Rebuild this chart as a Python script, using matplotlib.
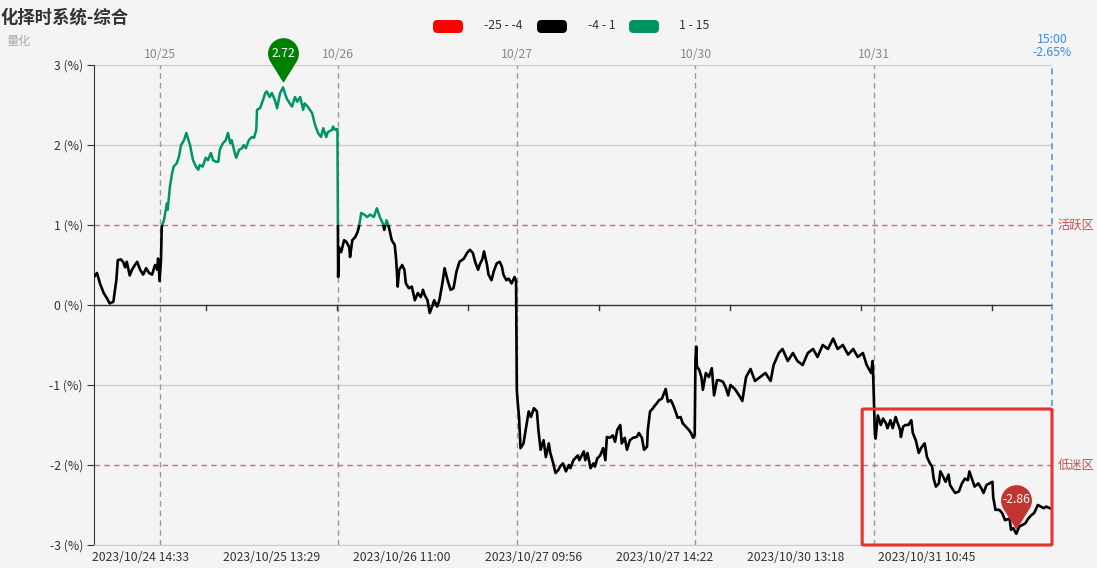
import numpy as np
import matplotlib
matplotlib.use("Agg")
import matplotlib.pyplot as plt
from matplotlib.path import Path
from matplotlib.patches import FancyBboxPatch, Rectangle

plt.rcParams['font.family'] = ['Noto Sans CJK SC', 'DejaVu Sans']

# ---------------- data ----------------
# trading-minute index (0 = 2023/10/24 13:33) and cumulative return in %
idx = [0, 4, 8, 13, 17, 21, 26, 30, 32, 36, 39, 42, 44, 48, 51, 55, 58, 62, 66, 70, 74, 78, 82, 85, 86, 87,
       88, 90, 91, 94, 97, 98, 99, 102, 105, 107, 111, 114, 117, 121, 124, 126, 129, 133, 137, 140, 142, 146,
       150, 153, 157, 160, 164, 167, 169, 173, 177, 180, 183, 185, 188, 191, 195, 199, 201, 204, 208, 212,
       215, 218, 219, 223, 227, 230, 232, 236, 239, 243, 246, 250, 254, 257, 259, 263, 266, 270, 273, 277,
       281, 283, 287, 293, 297, 301, 305, 308, 312, 314, 320, 321, 324, 327,
       328, 329, 332, 336, 339, 343, 344, 347, 351, 354, 356, 359, 363, 367, 371, 376, 380, 384, 388, 390,
       393, 396, 400, 404, 406, 408, 410, 414, 417, 419, 423, 427, 431, 435, 439, 442, 444, 448, 451, 455,
       457, 461, 464, 468, 471, 475, 479, 483, 487, 491, 497, 501, 505, 509, 512, 516, 518, 522, 524, 528,
       530, 534, 537, 541, 545, 548, 550, 554, 557, 561, 563, 565, 567,
       568, 569, 571, 573, 577, 580, 584, 587, 591, 595, 597, 600, 604, 607, 611, 613, 617, 620, 624, 626,
       630, 634, 638, 640, 644, 650, 652, 658, 660, 663, 667, 671, 673, 676, 680, 684, 687, 689, 693, 697,
       700, 703, 707, 709, 713, 716, 720, 724, 729, 732, 736, 739, 743, 744, 747, 751, 754, 756, 759, 763,
       766, 768, 771, 775, 778, 782, 784, 788, 791, 795, 799, 802, 805, 807,
       808, 809, 810, 813, 816, 818, 822, 826, 830, 833, 837, 840, 845, 849, 852, 855, 861, 868, 871, 876,
       882, 888, 895, 902, 909, 913, 920, 925, 932, 939, 945, 952, 959, 966, 972, 979, 986, 993, 999, 1006,
       1013, 1020, 1026, 1033, 1038, 1044, 1046, 1047,
       1048, 1049, 1050, 1053, 1057, 1060, 1064, 1066, 1070, 1073, 1077, 1079, 1083, 1084, 1087, 1090, 1094,
       1098, 1100, 1104, 1108, 1111, 1114, 1116, 1119, 1123, 1126, 1128, 1131, 1135, 1137, 1141, 1144, 1148,
       1150, 1154, 1157, 1162, 1166, 1170, 1174, 1176, 1180, 1183, 1188, 1192, 1195, 1199, 1203, 1207, 1208,
       1211, 1216, 1220, 1224, 1230, 1232, 1235, 1239, 1243, 1247, 1251, 1255, 1259, 1263, 1268, 1272, 1276,
       1279, 1287]
vals = [0.35, 0.40, 0.27, 0.15, 0.09, 0.02, 0.04, 0.31, 0.56, 0.57, 0.54, 0.47, 0.54, 0.37, 0.44, 0.50, 0.54,
        0.44, 0.38, 0.46, 0.40, 0.38, 0.50, 0.44, 0.58, 0.55,
        0.30, 0.56, 0.98, 1.06, 1.22, 1.27, 1.19, 1.48, 1.65, 1.73, 1.77, 1.85, 2.00, 2.06, 2.15, 2.09, 2.00,
        1.81, 1.73, 1.69, 1.75, 1.73, 1.84, 1.81, 1.90, 1.81, 1.79, 1.79, 1.94, 2.02, 2.06, 2.15, 2.02, 2.06,
        1.94, 1.84, 1.94, 1.96, 2.00, 1.96, 2.06, 2.10, 2.09, 2.19, 2.44, 2.46, 2.56, 2.65, 2.67, 2.60, 2.65,
        2.56, 2.46, 2.65, 2.72, 2.63, 2.58, 2.52, 2.48, 2.60, 2.54, 2.60, 2.44, 2.52, 2.48, 2.40, 2.25, 2.15,
        2.10, 2.21, 2.10, 2.16, 2.19, 2.23, 2.19, 2.20,
        0.35, 0.72, 0.66, 0.81, 0.79, 0.72, 0.60, 0.81, 0.85, 0.91, 0.98, 1.15, 1.13, 1.10, 1.13, 1.10, 1.21,
        1.10, 1.02, 0.94, 1.06, 0.98, 0.81, 0.75, 0.56, 0.23, 0.44, 0.50, 0.44, 0.27, 0.21, 0.23, 0.06, 0.15,
        0.10, 0.19, 0.13, 0.06, -0.10, 0.00, 0.06, -0.02, 0.06, 0.27, 0.46, 0.31, 0.19, 0.21, 0.42, 0.54,
        0.58, 0.65, 0.69, 0.65, 0.54, 0.44, 0.50, 0.58, 0.67, 0.50, 0.38, 0.31, 0.42, 0.52, 0.54, 0.48, 0.38,
        0.31, 0.33, 0.27, 0.31, 0.35, 0.30,
        -1.06, -1.19, -1.40, -1.79, -1.73, -1.56, -1.33, -1.40, -1.29, -1.33, -1.56, -1.81, -1.69, -1.90,
        -1.73, -1.85, -1.98, -2.10, -2.06, -2.02, -1.98, -2.08, -2.00, -2.04, -1.94, -1.88, -1.94, -1.83,
        -1.94, -1.85, -2.04, -1.98, -2.02, -1.92, -1.88, -1.79, -1.94, -1.65, -1.66, -1.63, -1.71, -1.56,
        -1.50, -1.73, -1.66, -1.81, -1.69, -1.66, -1.65, -1.60, -1.66, -1.81, -1.77, -1.56, -1.33, -1.29,
        -1.25, -1.23, -1.19, -1.17, -1.10, -1.05, -1.21, -1.19, -1.25, -1.35, -1.41, -1.40, -1.48, -1.52,
        -1.56, -1.60, -1.66, -1.62,
        -0.69, -0.52, -0.77, -0.81, -0.90, -1.06, -0.85, -0.90, -0.79, -1.13, -0.94, -0.94, -0.96, -1.04,
        -1.13, -1.00, -1.05, -1.15, -1.20, -0.90, -0.80, -0.95, -0.90, -0.85, -0.95, -0.75, -0.60, -0.55,
        -0.70, -0.60, -0.70, -0.75, -0.60, -0.55, -0.65, -0.50, -0.55, -0.42, -0.55, -0.50, -0.62, -0.55,
        -0.65, -0.60, -0.75, -0.85, -0.70, -0.95,
        -1.30, -1.60, -1.67, -1.38, -1.50, -1.42, -1.48, -1.54, -1.44, -1.54, -1.40, -1.46, -1.56, -1.65,
        -1.52, -1.50, -1.50, -1.44, -1.60, -1.69, -1.85, -1.79, -1.75, -1.73, -1.90, -1.98, -2.02, -2.17,
        -2.27, -2.23, -2.08, -2.15, -2.21, -2.12, -2.25, -2.31, -2.35, -2.33, -2.23, -2.17, -2.19, -2.08,
        -2.19, -2.27, -2.23, -2.29, -2.35, -2.25, -2.23, -2.21, -2.40, -2.56, -2.56, -2.60, -2.69, -2.67,
        -2.81, -2.79, -2.86, -2.77, -2.75, -2.73, -2.67, -2.63, -2.60, -2.50, -2.52, -2.54, -2.52, -2.55]

day_start_idx = [88, 328, 568, 808, 1048]
day_labels = ['10/25', '10/26', '10/27', '10/30', '10/31']
time_label_idx = [62, 238, 414, 590, 766, 942, 1118]
time_labels = ['2023/10/24 14:33', '2023/10/25 13:29', '2023/10/26 11:00', '2023/10/27 09:56',
               '2023/10/27 14:22', '2023/10/30 13:18', '2023/10/31 10:45']
axis_tick_idx = [150, 326, 502, 678, 854, 1030, 1206]
last_idx = 1287
last_time = '15:00'
last_pct = '-2.65%'
y_ticks = [-3, -2, -1, 0, 1, 2, 3]
active_level = 1
weak_level = -2
legend_labels = ['-25 - -4', '-4 - 1', '1 - 15']
legend_colors = ['#ff0000', '#000000', '#009463']
highlight_x = [1032, 1287]
highlight_y = [-3.0, -1.3]

title = '化择时系统-综合'
subtitle = '量化'

# ---------------- figure ----------------
W, H = 1097, 568
BG = '#f4f4f4'
fig = plt.figure(figsize=(W / 100, H / 100), dpi=100, facecolor=BG)

def fx(x):
    return x / W

def fy(y):
    return 1 - y / H

L, R, T, B = 94, 1052, 65, 545
ax = fig.add_axes([fx(L), fy(B), fx(R) - fx(L), fy(T) - fy(B)])
ax.set_facecolor(BG)
ax.set_xlim(0, last_idx)
ax.set_ylim(-3, 3)

x = np.array(idx)
y = np.array(vals)

# grid lines
for yt in y_ticks:
    if yt in (0, active_level, weak_level):
        continue
    ax.axhline(yt, color='#cccccc', lw=0.9, zorder=1)

# zero axis line
ax.axhline(0, color='#333333', lw=1.0, zorder=2)
for t in axis_tick_idx:
    ax.plot([t, t], [0, -0.06], color='#333333', lw=1.0, zorder=2, clip_on=False)

# day separators
for d, lab in zip(day_start_idx, day_labels):
    ax.axvline(d, color='#999999', lw=1.0, ls=(0, (4, 3)), zorder=1)
    ax.text(d, 3.13, lab, ha='center', va='center', fontsize=8.8, color='#888888', clip_on=False)

# end line
ax.axvline(last_idx, color='#4a90e2', lw=1.1, ls=(0, (4, 3)), zorder=3, clip_on=False)
ax.text(last_idx, 3.24, last_time + '\n' + last_pct, ha='center', va='center',
        fontsize=8.8, color='#3a8ee6', linespacing=1.0, clip_on=False)

# level lines
ax.axhline(active_level, color='#c9706c', lw=1.0, ls=(0, (4, 3)), zorder=1)
ax.axhline(weak_level, color='#c9706c', lw=1.0, ls=(0, (4, 3)), zorder=1)
ax.text(last_idx + 8, active_level, '活跃区', ha='left', va='center', fontsize=8.8, color='#c0504d',
        clip_on=False)
ax.text(last_idx + 8, weak_level, '低迷区', ha='left', va='center', fontsize=8.8, color='#c0504d',
        clip_on=False)

# line, coloured by value bands
green_line, = ax.plot(x, y, color=legend_colors[2], lw=1.8, zorder=4, solid_joinstyle='round')
black_line, = ax.plot(x, y, color=legend_colors[1], lw=1.9, zorder=4, solid_joinstyle='round')
green_clip = Rectangle((0, active_level), last_idx, 20, transform=ax.transData)
black_clip = Rectangle((0, -20), last_idx, 20 + active_level, transform=ax.transData)
green_line.set_clip_path(green_clip)
black_line.set_clip_path(black_clip)

# highlight box
box = FancyBboxPatch((highlight_x[0], highlight_y[0]), highlight_x[1] - highlight_x[0],
                     highlight_y[1] - highlight_y[0], boxstyle='round,pad=0,rounding_size=2',
                     fill=False, ec='#e8322b', lw=2.2, zorder=5, clip_on=False,
                     mutation_aspect=0.006)
ax.add_patch(box)

# pin markers
r, c, t = 1.0, 2.3, 0.4
th = np.arccos(r / (c - t))
a0 = -np.pi / 2 + th
a1 = -np.pi / 2 - th + 2 * np.pi
ang = np.linspace(a0, a1, 60)
verts = [(0, t)] + [(r * np.cos(a), c + r * np.sin(a)) for a in ang] + [(0, t)]
codes = [Path.MOVETO] + [Path.LINETO] * (len(verts) - 2) + [Path.CLOSEPOLY]
pin = Path(verts, codes)
imax = int(np.argmax(y))
imin = int(np.argmin(y))
for i, col in ((imax, '#008000'), (imin, '#c23531')):
    ax.plot(x[i], y[i], marker=pin, markersize=70, color=col, mec=col, zorder=6, clip_on=False)
    ax.annotate(f'{y[i]:.2f}', (x[i], y[i]), xytext=(0, 24.4), textcoords='offset points',
                ha='center', va='center', color='white', fontsize=8.8, zorder=7)

# axes styling
for s in ('top', 'right'):
    ax.spines[s].set_visible(False)
ax.spines['left'].set_color('#333333')
ax.spines['bottom'].set_color('#cccccc')
ax.set_yticks(y_ticks)
ax.set_yticklabels([f'{v} (%)' for v in y_ticks])
ax.tick_params(axis='y', length=5, color='#333333', labelsize=8.8, labelcolor='#333333', pad=3)
ax.set_xticks(time_label_idx)
ax.set_xticklabels(time_labels)
ax.tick_params(axis='x', length=0, labelsize=8.8, labelcolor='#333333', pad=4)

# title / subtitle
fig.text(fx(1), fy(18), title, ha='left', va='center', fontsize=12.5, fontweight='bold', color='#333333')
fig.text(fx(6), fy(42), subtitle, ha='left', va='center', fontsize=8.8, color='#aaaaaa')

# legend
lx = [433, 537, 629]
tx = [484, 588, 679]
for xx, tt, lab, col in zip(lx, tx, legend_labels, legend_colors):
    fig.add_artist(FancyBboxPatch((fx(xx), fy(33)), fx(30), 13 / H,
                                  boxstyle='round,pad=0,rounding_size=0.004',
                                  transform=fig.transFigure, fc=col, ec='none', mutation_aspect=2))
    fig.text(fx(tt), fy(25.5), lab, ha='left', va='center', fontsize=8.8, color='#333333')

fig.savefig('out.png', dpi=100, facecolor=BG)
